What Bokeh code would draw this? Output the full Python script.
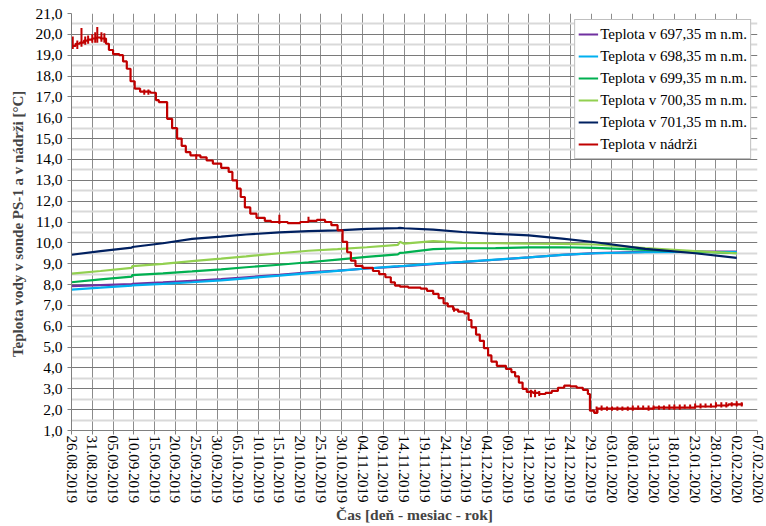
from bokeh.plotting import figure
from bokeh.models import ColumnDataSource, FixedTicker, Range1d, Legend
from bokeh.embed import file_html
from bokeh.resources import INLINE

# ---- x tick labels (days since 26.08.2019, every 5 days) ----
x_tick_labels = ["26.08.2019", "31.08.2019", "05.09.2019", "10.09.2019", "15.09.2019",
                 "20.09.2019", "25.09.2019", "30.09.2019", "05.10.2019", "10.10.2019",
                 "15.10.2019", "20.10.2019", "25.10.2019", "30.10.2019", "04.11.2019",
                 "09.11.2019", "14.11.2019", "19.11.2019", "24.11.2019", "29.11.2019",
                 "04.12.2019", "09.12.2019", "14.12.2019", "19.12.2019", "24.12.2019",
                 "29.12.2019", "03.01.2020", "08.01.2020", "13.01.2020", "18.01.2020",
                 "23.01.2020", "28.01.2020", "02.02.2020", "07.02.2020"]
x_tick_days = [5 * i for i in range(len(x_tick_labels))]
y_ticks = list(range(1, 22))
y_minor = [1.5 + i for i in range(20)]

# ---- probe series (day, temperature) ----
probe_days = [0, 7, 14.5, 14.6, 22, 29, 36, 42, 50, 57, 64, 71, 78.5, 79, 80, 87, 94,
              102, 110, 118, 126, 138, 150, 160]
t_697 = [7.92, 7.97, 8.02, 8.03, 8.10, 8.18, 8.26, 8.35, 8.46, 8.58, 8.67, 8.77, 8.86,
         8.87, 8.88, 8.98, 9.08, 9.19, 9.30, 9.42, 9.51, 9.57, 9.58, 9.58]
t_698 = [7.76, 7.85, 7.95, 7.96, 8.03, 8.11, 8.20, 8.30, 8.43, 8.55, 8.66, 8.77, 8.88,
         8.89, 8.90, 9.00, 9.09, 9.20, 9.30, 9.42, 9.50, 9.55, 9.56, 9.56]
t_699 = [8.11, 8.25, 8.38, 8.45, 8.54, 8.63, 8.73, 8.83, 8.95, 9.07, 9.20, 9.33, 9.45,
         9.52, 9.53, 9.70, 9.74, 9.75, 9.78, 9.79, 9.76, 9.66, 9.58, 9.50]
t_700 = [8.52, 8.65, 8.80, 8.88, 8.99, 9.12, 9.24, 9.35, 9.50, 9.62, 9.70, 9.79, 9.90,
         10.05, 9.96, 10.08, 10.00, 9.98, 9.96, 9.95, 9.92, 9.75, 9.60, 9.50]
t_701 = [9.43, 9.60, 9.77, 9.80, 9.98, 10.19, 10.30, 10.40, 10.50, 10.56, 10.60, 10.67,
         10.71, 10.72, 10.70, 10.63, 10.52, 10.43, 10.36, 10.20, 10.03, 9.71, 9.50, 9.28]

# ---- reservoir temperature (stepped) ----
res_days = [0, 1, 2, 3, 4, 5, 6, 7, 8.3, 9.0, 10, 11.5, 12.4, 13.3, 14.2, 15.2, 16.5, 19,
            20.3, 21, 23, 24.2, 25.4, 26.5, 27.5, 28.6, 31, 32.5, 34, 36, 37.8, 38.7,
            39.8, 40.7, 41.7, 43, 44.5, 46.5, 48, 52, 55, 57, 59, 61, 62.5, 64, 65.2,
            66.3, 67.2, 68.3, 70, 72.5, 74, 75.5, 76.8, 77.8, 79, 81, 84, 85.5, 87, 88.3,
            89.5, 90.5, 91.8, 93, 94.5, 95.5, 96.2, 97.3, 98.2, 99.2, 100.2, 101, 102.3,
            104.5, 105.8, 106.7, 107.6, 108.5, 109.5, 111, 112.5, 114, 115.5, 117, 118.5,
            120, 121.5, 123, 124.2, 124.7, 125.7, 126.5, 130, 135, 140, 145, 150, 155,
            158, 161.5]
res_vals = [19.45, 19.55, 19.6, 19.7, 19.75, 19.8, 19.85, 19.8, 19.55, 19.25, 19.05,
            19.0, 18.7, 18.35, 17.75, 17.4, 17.25, 17.2, 16.85, 16.75, 15.95, 15.5, 15.0,
            14.65, 14.35, 14.2, 14.1, 13.95, 13.8, 13.6, 13.4, 13.0, 12.6, 12.2, 11.7,
            11.4, 11.2, 11.05, 11.0, 10.95, 11.0, 11.05, 11.1, 11.0, 10.85, 10.6, 10.05,
            9.55, 9.15, 8.9, 8.8, 8.65, 8.5, 8.35, 8.1, 7.95, 7.9, 7.85, 7.8, 7.7, 7.55,
            7.35, 7.1, 6.95, 6.8, 6.7, 6.62, 6.3, 5.95, 5.6, 5.3, 4.95, 4.6, 4.3, 4.1,
            3.95, 3.8, 3.6, 3.3, 3.0, 2.85, 2.8, 2.75, 2.8, 2.9, 3.05, 3.15, 3.12, 3.05,
            2.95, 2.75, 1.95, 1.85, 2.05, 2.05, 2.05, 2.1, 2.1, 2.15, 2.2, 2.25, 2.25]

# short measurement spikes on the reservoir curve
spike_days = [0.3, 1.4, 2.4, 3.3, 4.0, 5.0, 5.7, 6.2, 7.2, 7.9, 17.5, 18.5, 30, 50, 57,
              92, 110.5, 111.5, 112.5, 126.3, 127.5, 128.8, 130, 131.3, 132.5, 133.8,
              135, 136.3, 137.5, 138.8, 140, 141.3, 142.5, 143.8, 145, 146.3, 147.5,
              148.8, 150, 151.3, 152.5, 153.8, 155, 156.3, 157.5, 158.8, 160, 161.2]
spike_lo = [19.3, 19.3, 19.4, 19.5, 19.55, 19.6, 19.6, 19.6, 19.65, 19.6, 17.1, 17.1,
            14.0, 10.9, 11.0, 6.7, 2.6, 2.6, 2.65, 1.85, 1.95, 1.95, 1.95, 1.95, 1.95,
            1.95, 1.95, 2.0, 2.0, 1.95, 2.0, 2.0, 2.0, 2.0, 2.0, 2.0, 2.05, 2.05, 2.05,
            2.05, 2.1, 2.1, 2.1, 2.1, 2.1, 2.15, 2.15, 2.15]
spike_hi = [19.9, 19.7, 20.3, 19.9, 19.95, 20.0, 20.1, 20.35, 20.1, 20.05, 17.35, 17.35,
            14.25, 11.35, 11.25, 6.9, 2.95, 2.95, 2.9, 2.15, 2.2, 2.15, 2.15, 2.15, 2.15,
            2.15, 2.2, 2.2, 2.2, 2.2, 2.2, 2.2, 2.2, 2.25, 2.25, 2.25, 2.25, 2.25, 2.3,
            2.3, 2.3, 2.3, 2.35, 2.35, 2.35, 2.35, 2.4, 2.35]

SERIF = "Liberation Serif"

p = figure(frame_width=686, frame_height=417, output_backend="svg", toolbar_location=None,
           x_range=Range1d(0, 165), y_range=Range1d(1, 21),
           min_border_left=71, min_border_top=13, min_border_right=9, min_border_bottom=3)
p.outline_line_color = None
p.background_fill_color = "white"

probe_src = ColumnDataSource(dict(d=probe_days, a=t_697, b=t_698, c=t_699, e=t_700, f=t_701))
res_src = ColumnDataSource(dict(d=res_days, v=res_vals))
spk_src = ColumnDataSource(dict(d=spike_days, lo=spike_lo, hi=spike_hi))

r1 = p.line("d", "a", source=probe_src, color="#7030A0", line_width=2.2)
r2 = p.line("d", "b", source=probe_src, color="#00B0F0", line_width=2.2)
r3 = p.line("d", "c", source=probe_src, color="#00B050", line_width=2.2)
r4 = p.line("d", "e", source=probe_src, color="#92D050", line_width=2.2)
r5 = p.line("d", "f", source=probe_src, color="#002060", line_width=2.2)
r6 = p.step("d", "v", source=res_src, mode="after", color="#C00000", line_width=2.2)
p.segment(x0="d", y0="lo", x1="d", y1="hi", source=spk_src, color="#C00000", line_width=2)

legend = Legend(items=[("Teplota v 697,35 m n.m.", [r1]),
                       ("Teplota v 698,35 m n.m.", [r2]),
                       ("Teplota v 699,35 m n.m.", [r3]),
                       ("Teplota v 700,35 m n.m.", [r4]),
                       ("Teplota v 701,35 m n.m.", [r5]),
                       ("Teplota v nádrži", [r6])],
                location="top_right")
legend.margin = 6
legend.padding = 3
legend.spacing = 0
legend.glyph_width = 20
legend.glyph_height = 22
legend.label_height = 22
legend.label_standoff = 2
legend.label_text_font = SERIF
legend.label_text_font_size = "15px"
legend.label_text_color = "black"
legend.border_line_color = "#7f7f7f"
legend.border_line_width = 1
legend.background_fill_alpha = 1
p.add_layout(legend)

# axes
p.xaxis.ticker = FixedTicker(ticks=x_tick_days)
p.xaxis.major_label_overrides = {d: lab for d, lab in zip(x_tick_days, x_tick_labels)}
p.xaxis.major_label_orientation = "vertical"
p.xaxis.major_label_text_font = SERIF
p.xaxis.major_label_text_font_size = "15px"
p.xaxis.major_label_text_color = "black"
p.xaxis.major_label_standoff = 1
p.xaxis.axis_label = "Čas [deň - mesiac - rok]"
p.xaxis.axis_label_text_font = SERIF
p.xaxis.axis_label_text_font_style = "bold"
p.xaxis.axis_label_text_font_size = "15.5px"
p.xaxis.axis_label_standoff = 0
p.xaxis.axis_line_color = "#808080"
p.xaxis.major_tick_line_color = "#808080"
p.xaxis.major_tick_in = 0
p.xaxis.major_tick_out = 4
p.xaxis.minor_tick_line_color = None

p.yaxis.ticker = FixedTicker(ticks=y_ticks, minor_ticks=y_minor)
p.yaxis.major_label_overrides = {v: f"{v:.1f}".replace(".", ",") for v in y_ticks}
p.yaxis.major_label_text_font = SERIF
p.yaxis.major_label_text_font_size = "15.5px"
p.yaxis.major_label_text_color = "black"
p.yaxis.major_label_standoff = 5
p.yaxis.axis_label = "Teplota vody v sonde PS-1 a v nádrži  [°C]"
p.yaxis.axis_label_text_font = SERIF
p.yaxis.axis_label_text_font_style = "bold"
p.yaxis.axis_label_text_font_size = "15px"
p.yaxis.axis_label_standoff = 6
p.yaxis.axis_line_color = "#808080"
p.yaxis.major_tick_line_color = "#808080"
p.yaxis.major_tick_in = 0
p.yaxis.major_tick_out = 4
p.yaxis.minor_tick_line_color = None

# grids
p.xgrid.grid_line_color = "#8c8c8c"
p.xgrid.grid_line_width = 1
p.ygrid.grid_line_color = "#7a7a7a"
p.ygrid.grid_line_width = 1
p.ygrid.minor_grid_line_color = "#d9d9d9"
p.ygrid.minor_grid_line_width = 2

open("out.html", "w").write(file_html(p, INLINE))
